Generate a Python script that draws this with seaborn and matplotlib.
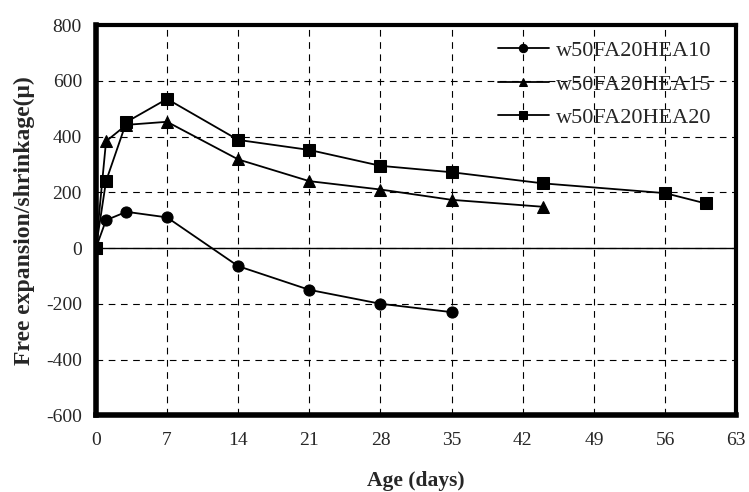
import matplotlib
matplotlib.use("Agg")
import matplotlib.pyplot as plt
import seaborn as sns
import pandas as pd

days_10 = [0, 1, 3, 7, 14, 21, 28, 35]
vals_10 = [0, 100, 130, 110, -65, -150, -200, -230]
days_15 = [0, 1, 3, 7, 14, 21, 28, 35, 44]
vals_15 = [0, 383, 442, 453, 318, 240, 210, 173, 148]
days_20 = [0, 1, 3, 7, 14, 21, 28, 35, 44, 56, 60]
vals_20 = [0, 240, 452, 535, 388, 352, 295, 272, 232, 197, 160]
series_names = ["w50FA20HEA10", "w50FA20HEA15", "w50FA20HEA20"]
x_ticks = [0, 7, 14, 21, 28, 35, 42, 49, 56, 63]
y_ticks = [-600, -400, -200, 0, 200, 400, 600, 800]

frames = []
for name, d, v in zip(series_names, [days_10, days_15, days_20], [vals_10, vals_15, vals_20]):
    frames.append(pd.DataFrame({"Age": d, "Value": v, "Series": name}))
df = pd.concat(frames, ignore_index=True)

sns.set_style("white")
plt.rcParams["font.family"] = ["Liberation Serif", "DejaVu Serif"]
plt.rcParams["axes.unicode_minus"] = False

fig = plt.figure(figsize=(7.49, 4.92), dpi=100)
ax = fig.add_axes([0.128, 0.156, 0.855, 0.793])

sns.lineplot(data=df, x="Age", y="Value", hue="Series", style="Series",
             palette=["black"] * 3, markers={"w50FA20HEA10": "o", "w50FA20HEA15": "^", "w50FA20HEA20": "s"},
             dashes=False, markersize=8, linewidth=1.3, markeredgecolor="black", ax=ax)

ax.set_xlim(0, 63)
ax.set_ylim(-600, 800)
ax.set_xticks(x_ticks)
ax.set_yticks(y_ticks)
ax.grid(True, color="black", linestyle=(0, (6, 5)), linewidth=0.8)
ax.axhline(0, color="black", linewidth=1.0)
ax.tick_params(length=0, labelsize=14)
ax.tick_params(axis="x", pad=12)
ax.tick_params(axis="y", pad=10)
for s in ax.spines.values():
    s.set_color("black")
    s.set_linewidth(3)
ax.spines["left"].set_linewidth(4)
ax.spines["bottom"].set_linewidth(4)

ax.set_xlabel("Age (days)", fontsize=15.5, fontweight="bold", labelpad=16)
ax.set_ylabel("Free expansion/shrinkage(\u03bc)", fontsize=17, fontweight="bold", labelpad=8)

leg = ax.legend(loc="upper right", bbox_to_anchor=(0.985, 1.0), frameon=False, fontsize=16,
                handlelength=2.3, handletextpad=0.3, borderaxespad=0.3, labelspacing=0.58,
                markerscale=0.75)

fig.savefig("out.png", dpi=100)
